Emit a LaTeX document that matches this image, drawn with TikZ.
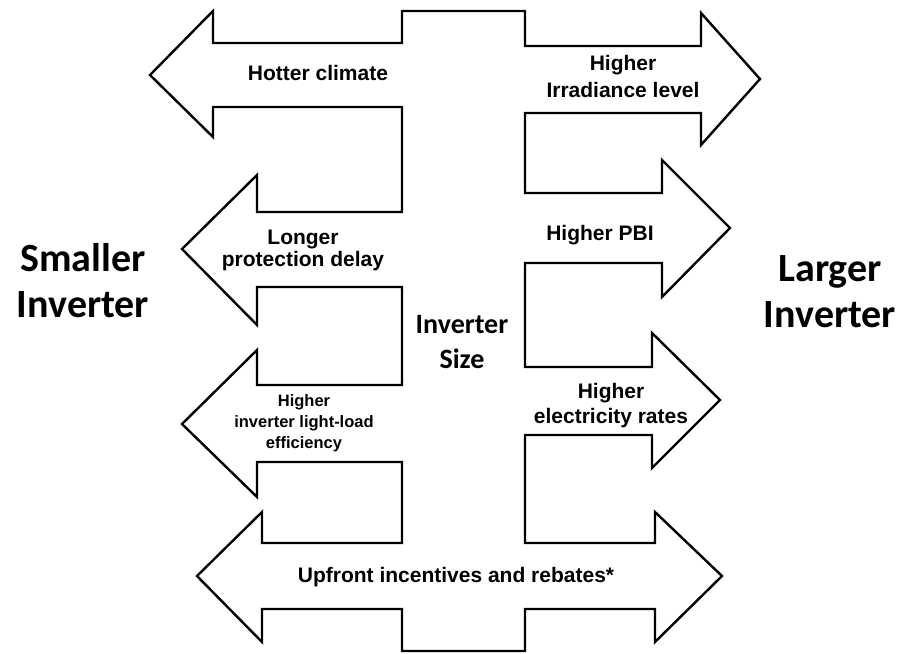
\documentclass[tikz,border=0pt]{standalone}
\usepackage{fontspec}
\setmainfont{Liberation Sans}
\newfontfamily\sidefont{Carlito}
\usepackage{tikz}

\tikzset{
  label/.style={font=\bfseries\fontsize{21}{25}\selectfont, align=center, anchor=base},
  smalllabel/.style={font=\bfseries\fontsize{16.5}{21}\selectfont, align=center, anchor=base},
  sidelabel/.style={font=\sidefont\bfseries\fontsize{40}{46}\selectfont, align=center, anchor=base},
}

\begin{document}
\begin{tikzpicture}[x=1pt, y=-1pt]

\useasboundingbox (0,0) rectangle (899,653);

% Draw the outline: central stem with arrows to both sides
\draw[line width=2.4pt, line join=miter]
  (402,11) -- (525,11) -- (525,46) -- (701,46) -- (701,13) -- (760,79)
  -- (701,145) -- (701,113) -- (525,113) -- (525,193) -- (662,193)
  -- (662,160) -- (730,228) -- (662,297) -- (662,263) -- (525,263)
  -- (525,367) -- (652,367) -- (652,333) -- (720,400) -- (652,468)
  -- (652,435) -- (525,435) -- (525,543) -- (655,543) -- (655,512)
  -- (722,576) -- (655,642) -- (655,609) -- (525,609) -- (525,651)
  -- (402,651) -- (402,609) -- (262,609) -- (262,642) -- (197,576)
  -- (262,512) -- (262,543) -- (402,543) -- (402,462) -- (257,462)
  -- (257,497) -- (182,424) -- (257,350) -- (257,385) -- (402,385)
  -- (402,287) -- (257,287) -- (257,325) -- (182,249) -- (257,175)
  -- (257,212) -- (402,212) -- (402,107) -- (213,107) -- (213,137)
  -- (150,75) -- (213,11) -- (213,43) -- (402,43) -- cycle;

% Labels inside the arrows (anchored at the last baseline)
\node[label] (hotter) at (318,80) {Hotter climate};
\node[label] (irradiance) at (623,97) {Higher\\[2pt]Irradiance level};
\node[label] (pbi) at (600,240) {Higher PBI};
\node[label] (delay) at (303,266) {Longer\\[-3pt]protection delay};
\node[smalllabel] (efficiency) at (304,448) {Higher\\inverter light-load\\efficiency};
\node[label] (rates) at (611,423) {Higher\\electricity rates};
\node[label] (rebates) at (456,582) {Upfront incentives and rebates*};

% Centre and side labels
\node[sidelabel, font=\sidefont\bfseries\fontsize{28}{35}\selectfont] (size) at (462,368) {Inverter\\Size};
\node[sidelabel] (smaller) at (83,317) {Smaller\\Inverter};
\node[sidelabel] (larger) at (830,327) {Larger\\Inverter};

\end{tikzpicture}
\end{document}
